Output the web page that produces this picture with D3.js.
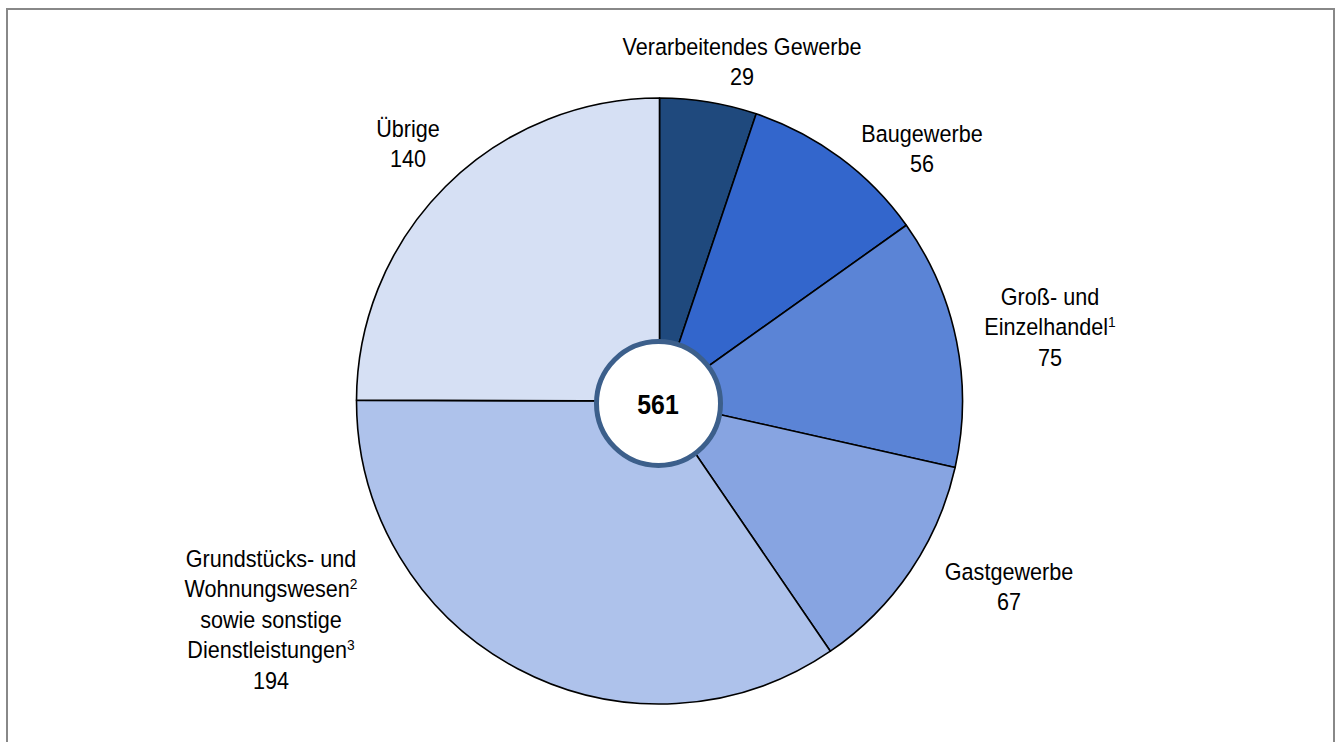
<!DOCTYPE html>
<html>
<head>
<meta charset="utf-8">
<script src="https://cdn.jsdelivr.net/npm/d3@7"></script>
<style>
  body { margin: 0; background: #fff; }
  svg { display: block; }
  text { font-family: "Liberation Sans", Arial, sans-serif; fill: #000; }
</style>
</head>
<body>
<svg id="chart"></svg>
<script>
// data
var categories = ["Verarbeitendes Gewerbe", "Baugewerbe", "Groß- und Einzelhandel",
                  "Gastgewerbe", "Grundstücks- und Wohnungswesen sowie sonstige Dienstleistungen", "Übrige"];
// label lines, [text, superscript]
var labelLines = [
  [["Verarbeitendes Gewerbe", ""]],
  [["Baugewerbe", ""]],
  [["Groß- und", ""], ["Einzelhandel", "1"]],
  [["Gastgewerbe", ""]],
  [["Grundstücks- und", ""], ["Wohnungswesen", "2"], ["sowie sonstige", ""], ["Dienstleistungen", "3"]],
  [["Übrige", ""]]
];
var values = [29, 56, 75, 67, 194, 140];
var total = d3.sum(values);

var colors = ["#1f497d", "#3366cc", "#5b84d6", "#87a4e1", "#aec2eb", "#d6e0f4"];

// layout
var W = 1336, H = 742;
var cx = 659.5, cy = 401, R = 303;
// label anchor: centre x, baseline of first line
var labelPos = [[742, 55], [922, 142], [1050, 305], [1009, 580], [271, 567], [408, 137]];
var lineH = 30.5;
var squeeze = 0.92; // text in the original is a little narrow

var svg = d3.select("#chart").attr("width", W).attr("height", H);

// frame
svg.append("rect")
    .attr("x", 7).attr("y", 9)
    .attr("width", 1327).attr("height", 760)
    .attr("fill", "none")
    .attr("stroke", "#888")
    .attr("stroke-width", 2);

var pie = d3.pie().sort(null).value(function(d) { return d; });
var arc = d3.arc().innerRadius(0).outerRadius(R);

var g = svg.append("g").attr("transform", "translate(" + cx + "," + cy + ")");

g.selectAll("path")
    .data(pie(values))
    .enter().append("path")
    .attr("d", arc)
    .attr("fill", function(d, i) { return colors[i]; })
    .attr("stroke", "#000")
    .attr("stroke-width", 1.6)
    .attr("stroke-linejoin", "round");

// centre circle with total
svg.append("circle")
    .attr("cx", 658.5).attr("cy", 403.5).attr("r", 62)
    .attr("fill", "#fff")
    .attr("stroke", "#3c5f8b")
    .attr("stroke-width", 5);

svg.append("text")
    .attr("transform", "translate(658,414) scale(" + squeeze + ",1)")
    .attr("text-anchor", "middle")
    .style("font-size", "27px")
    .style("font-weight", "bold")
    .text(total);

// labels
values.forEach(function(v, i) {
  var t = svg.append("text")
      .attr("transform", "translate(" + labelPos[i][0] + "," + labelPos[i][1] + ") scale(" + squeeze + ",1)")
      .attr("text-anchor", "middle")
      .style("font-size", "23.5px");
  var lines = labelLines[i];
  lines.forEach(function(l, j) {
    var ts = t.append("tspan")
        .attr("x", 0)
        .attr("y", j * lineH);
    ts.append("tspan").text(l[0]);
    if (l[1]) {
      ts.append("tspan")
        .attr("dy", -8.5)
        .style("font-size", "15px")
        .text(l[1]);
    }
  });
  t.append("tspan")
      .attr("x", 0)
      .attr("y", lines.length * lineH)
      .text(v);
});
</script>
</body>
</html>
